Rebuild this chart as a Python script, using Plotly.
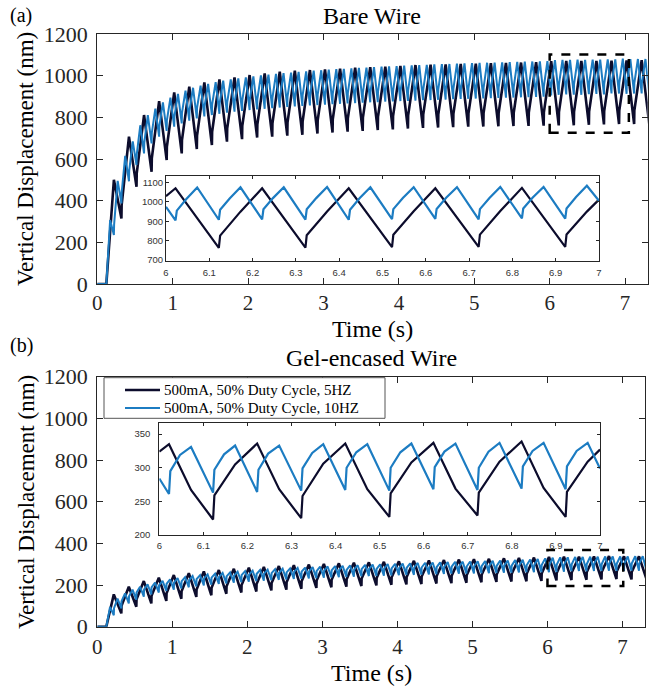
import numpy as np
import plotly.graph_objects as go

W, H = 659, 688

DARK = "#0c0c2c"
BLUE = "#1c7cc2"
SERIF = "Liberation Serif"
SANS = "Liberation Sans"

LEGEND_NAMES = ["500mA, 50% Duty Cycle, 5HZ", "500mA, 50% Duty Cycle, 10HZ"]

# ---- main curves: one peak / trough value per cycle (nm) ----
# (a) bare wire, 5 Hz: peaks at 0.22 + 0.2k, troughs at 0.32 + 0.2k
A5_PEAK = [500, 707, 811, 878, 920, 947, 968, 982, 992, 1003, 1011, 1019, 1024, 1027,
           1030, 1034, 1038, 1041, 1043, 1047, 1051, 1053, 1054, 1056, 1058, 1060, 1061,
           1063, 1065, 1070, 1071, 1071, 1071, 1072, 1073, 1074]
A5_TROUGH = [315, 467, 539, 595, 627, 648, 667, 683, 695, 703, 707, 712, 716, 722, 727,
             731, 735, 739, 742, 746, 749, 751, 753, 755, 756, 757, 758, 759, 760, 761,
             762, 764, 766, 768, 768, 770]
# (a) bare wire, 10 Hz: peaks at 0.17 + 0.1k, troughs at 0.22 + 0.1k
A10_PEAK = [307, 495, 615, 685, 762, 810, 842, 872, 895, 912, 928, 942, 952, 961, 969,
            976, 982, 987, 992, 997, 1001, 1005, 1009, 1012, 1015, 1018, 1021, 1024, 1026,
            1029, 1031, 1033, 1035, 1037, 1039, 1041, 1043, 1045, 1046, 1048, 1049, 1051,
            1052, 1054, 1055, 1056, 1058, 1059, 1060, 1061, 1062, 1063, 1064, 1065, 1066,
            1067, 1068, 1069, 1070, 1075, 1076, 1076, 1077, 1076, 1077, 1077, 1078, 1078,
            1082, 1079, 1080, 1080]
A10_TROUGH = [235, 387, 493, 571, 627, 675, 707, 735, 755, 771, 784, 795, 804, 811, 817,
              822, 827, 831, 835, 838, 841, 844, 847, 850, 852, 855, 857, 859, 861, 863,
              865, 867, 868, 870, 872, 873, 875, 876, 878, 879, 880, 882, 883, 884, 885,
              887, 888, 889, 890, 891, 892, 893, 894, 895, 896, 897, 898, 899, 905, 908,
              910, 909, 908, 911, 912, 910, 915, 914, 913, 914, 915, 915]
# (b) gel-encased wire
B5_PEAK = [155, 192, 219, 235, 248, 257, 265, 272, 278, 283, 287, 291, 295, 298, 301,
           304, 307, 309, 311, 314, 316, 318, 320, 322, 324, 326, 328, 330, 332, 335,
           336, 336, 337, 339, 338, 338]
B5_TROUGH = [64, 96, 112, 124, 134, 143, 151, 158, 164, 169, 174, 178, 182, 186, 189,
             192, 195, 198, 201, 203, 205, 207, 209, 211, 213, 215, 217, 218, 220, 222,
             224, 225, 227, 229, 227, 228]
B10_PEAK = [95, 135, 160, 178, 192, 203, 212, 220, 227, 233, 238, 243, 247, 251, 255,
            258, 261, 264, 267, 269, 272, 274, 276, 278, 280, 282, 284, 286, 288, 289,
            291, 292, 294, 295, 297, 298, 299, 301, 302, 303, 304, 306, 307, 308, 309,
            310, 311, 312, 313, 314, 315, 316, 317, 318, 320, 321, 323, 325, 328, 331,
            333, 333, 335, 335, 336, 336, 337, 337, 337, 337, 338, 338]
B10_TROUGH = [55, 88, 112, 130, 144, 155, 164, 172, 178, 184, 189, 194, 198, 202, 205,
              208, 211, 214, 216, 219, 221, 223, 225, 227, 229, 230, 232, 233, 235, 236,
              238, 239, 240, 242, 243, 244, 245, 246, 247, 248, 249, 250, 251, 252, 253,
              254, 254, 255, 256, 257, 257, 258, 259, 259, 260, 261, 261, 262, 261, 263,
              264, 266, 267, 266, 268, 267, 269, 268, 268, 269, 269, 270]
# step seen at switch-on (nm)
JUMP = {"A5": 64, "A10": 50, "B5": 36, "B10": 34}

# ---- insets (6 s - 7 s): per cycle trough, step top, mid-rise, peak, mid-decay ----
IA5 = dict(t0=5.922, period=0.2, start=1030, end=1012,
           trough=[None, 762, 764, 766, 768, 768], jump=[None, 826, 828, 830, 831, 832],
           rise=[None, 950, 951, 952, 953, 950], peak=[1071, 1071, 1071, 1071, 1073, None],
           decay=[916, 917, 918, 919, 920, None])
IA10 = dict(t0=6.022, period=0.1, start=975, end=1006,
            trough=[905, 908, 910, 909, 908, 911, 912, 910, 915, 914],
            jump=[955, 960, 962, 962, 960, 963, 964, 963, 966, 966],
            rise=[1015, 1018, 1020, 1020, 1019, 1021, 1022, 1021, 1023, 1026],
            peak=[1075, 1076, 1076, 1077, 1076, 1077, 1077, 1078, 1078, 1084],
            decay=[990, 992, 993, 993, 992, 994, 995, 994, 997, None])
IB5 = dict(t0=5.922, period=0.2, start=324, end=327,
           trough=[None, 223, 225, 227, 229, 227], jump=[None, 259, 258, 262, 263, 264],
           rise=[None, 305, 306, 308, 309, 309], peak=[335, 336, 336, 337, 339, None],
           decay=[267, 268, 268, 269, 270, None])
IB10 = dict(t0=6.022, period=0.1, start=284, end=299,
            trough=[261, 263, 264, 266, 267, 266, 268, 267, 269, 268],
            jump=[295, 297, 297, 299, 300, 300, 301, 300, 302, 302],
            rise=[319, 320, 321, 322, 323, 323, 324, 324, 325, 325],
            peak=[331, 333, 333, 335, 335, 336, 336, 337, 337, 337],
            decay=[297, 298, 299, 300, 300, 301, 301, 302, 302, None])

INSET_X_TICKS = [6, 6.1, 6.2, 6.3, 6.4, 6.5, 6.6, 6.7, 6.8, 6.9, 7]


def main_wave(period, peaks, troughs, jump, t_on=0.12):
    t, v = [0.0, t_on], [0.0, 0.0]
    for k, (p, tr) in enumerate(zip(peaks, troughs)):
        tp = t_on + period / 2 + k * period
        t += [tp, tp + period / 2, tp + period / 2 + 0.003]
        v += [p, tr, tr + jump]
    return t, v


def inset_wave(d):
    t, v = [6.0], [d["start"]]
    p = d["period"]
    for k in range(len(d["trough"])):
        tt = d["t0"] + k * p
        for dt, key in [(0, "trough"), (0.003, "jump"), (p / 4, "rise"),
                        (p / 2, "peak"), (3 * p / 4, "decay")]:
            val = d[key][k]
            if val is not None and 6.0 < tt + dt < 7.0:
                t.append(tt + dt)
                v.append(val)
    t.append(7.0)
    v.append(d["end"])
    return t, v


fig = go.Figure()

# top panel
for (pk, tr, j, per, col, w) in [(A5_PEAK, A5_TROUGH, JUMP["A5"], 0.2, DARK, 2.6),
                                (A10_PEAK, A10_TROUGH, JUMP["A10"], 0.1, BLUE, 2.0)]:
    t, v = main_wave(per, pk, tr, j)
    fig.add_trace(go.Scatter(x=t, y=v, mode="lines", line=dict(color=col, width=w),
                             showlegend=False, xaxis="x", yaxis="y"))
for d, col in [(IA5, DARK), (IA10, BLUE)]:
    t, v = inset_wave(d)
    fig.add_trace(go.Scatter(x=t, y=v, mode="lines", line=dict(color=col, width=2.2),
                             showlegend=False, xaxis="x2", yaxis="y2"))

# bottom panel
for (pk, tr, j, per, col, w, name) in [
        (B5_PEAK, B5_TROUGH, JUMP["B5"], 0.2, DARK, 2.6, LEGEND_NAMES[0]),
        (B10_PEAK, B10_TROUGH, JUMP["B10"], 0.1, BLUE, 2.0, LEGEND_NAMES[1])]:
    t, v = main_wave(per, pk, tr, j)
    fig.add_trace(go.Scatter(x=t, y=v, mode="lines", line=dict(color=col, width=w),
                             name=name, showlegend=False, xaxis="x3", yaxis="y3"))
for d, col in [(IB5, DARK), (IB10, BLUE)]:
    t, v = inset_wave(d)
    fig.add_trace(go.Scatter(x=t, y=v, mode="lines", line=dict(color=col, width=2.2),
                             showlegend=False, xaxis="x4", yaxis="y4"))


def dx(a, b):
    return [a / W, b / W]


def dy(top, bottom):
    return [1 - bottom / H, 1 - top / H]


main_ax = dict(showline=True, linecolor="#262626", linewidth=1.2, mirror="ticks",
               ticks="inside", ticklen=6, tickcolor="#262626", showgrid=False,
               zeroline=False, automargin=False,
               tickfont=dict(family=SERIF, size=22, color="#262626"))
main_x = dict(main_ax, tickfont=dict(family=SERIF, size=21, color="#262626"))
inset_ax = dict(showline=True, linecolor="#262626", linewidth=1, mirror="ticks",
                ticks="inside", ticklen=3, tickcolor="#262626", showgrid=False,
                zeroline=False, automargin=False,
                tickfont=dict(family=SANS, size=9.5, color="#333333"))

fig.update_layout(
    template="none",
    width=W, height=H, margin=dict(l=0, r=0, t=0, b=0, autoexpand=False),
    paper_bgcolor="white", plot_bgcolor="white", showlegend=False,
    xaxis=dict(main_x, domain=dx(97.3, 647.7), range=[0, 7.3], tickvals=list(range(8)),
               anchor="y", ticklabelstandoff=0),
    yaxis=dict(main_ax, domain=dy(34, 284), range=[0, 1200], dtick=200, anchor="x",
               ticklabelstandoff=4),
    xaxis2=dict(inset_ax, domain=dx(166, 599), range=[6, 7], tickvals=INSET_X_TICKS,
                anchor="y2", ticklabelstandoff=3),
    yaxis2=dict(inset_ax, domain=dy(175.7, 260.7), range=[696, 1136],
                tickvals=[700, 800, 900, 1000, 1100], anchor="x2"),
    xaxis3=dict(main_x, domain=dx(97.3, 645), range=[0, 7.3], tickvals=list(range(8)),
                anchor="y3", ticklabelstandoff=1),
    yaxis3=dict(main_ax, domain=dy(376.7, 626.7), range=[0, 1200], dtick=200,
                anchor="x3", ticklabelstandoff=4),
    xaxis4=dict(inset_ax, domain=dx(159.3, 600), range=[6, 7], tickvals=INSET_X_TICKS,
                anchor="y4", ticklabelstandoff=2),
    yaxis4=dict(inset_ax, domain=dy(422.7, 535), range=[200, 367],
                tickvals=[200, 250, 300, 350], anchor="x4", ticklabelstandoff=6),
)

dash = dict(color="black", width=2.5, dash="dash")
fig.add_shape(type="rect", xref="x", yref="y", x0=6.0, x1=7.05, y0=726, y1=1102, line=dash)
fig.add_shape(type="rect", xref="x3", yref="y3", x0=6.0, x1=7.01, y0=195, y1=368, line=dash)

# legend box for panel (b), drawn compactly like the original
fig.add_shape(type="rect", xref="paper", yref="paper", x0=104 / W, x1=385 / W,
              y0=1 - 418.3 / H, y1=1 - 377.7 / H, fillcolor="white",
              line=dict(color="#555555", width=1))
for name, col, w, yy in [(LEGEND_NAMES[0], DARK, 2.6, 390), (LEGEND_NAMES[1], BLUE, 2.0, 408)]:
    fig.add_shape(type="line", xref="paper", yref="paper", x0=125 / W, x1=160 / W,
                  y0=1 - yy / H, y1=1 - yy / H, line=dict(color=col, width=w))
    fig.add_annotation(text=name, x=162 / W, y=1 - yy / H, xref="paper", yref="paper",
                       showarrow=False, xanchor="left", yanchor="middle",
                       font=dict(family=SERIF, size=15, color="black"))

texts = [
    ("(a)", 21, 15, 20, 0),
    ("Bare Wire", 372, 16, 24, 0),
    ("Time (s)", 372, 329, 24, 0),
    ("Vertical Displacement (nm)", 26, 159, 23, -90),
    ("(b)", 21, 345, 20, 0),
    ("Gel-encased Wire", 371, 358, 24, 0),
    ("Time (s)", 371, 673, 24, 0),
    ("Vertical Displacement (nm)", 26, 502, 23, -90),
]
for s, x, y, size, ang in texts:
    fig.add_annotation(text=s, x=x / W, y=1 - y / H, xref="paper", yref="paper",
                       showarrow=False, textangle=ang, xanchor="center", yanchor="middle",
                       font=dict(family=SERIF, size=size, color="black"))

# the page body keeps its default 8px margin otherwise
fig.write_html("out.html", config={"displayModeBar": False},
               post_script="document.body.style.margin='0';")
